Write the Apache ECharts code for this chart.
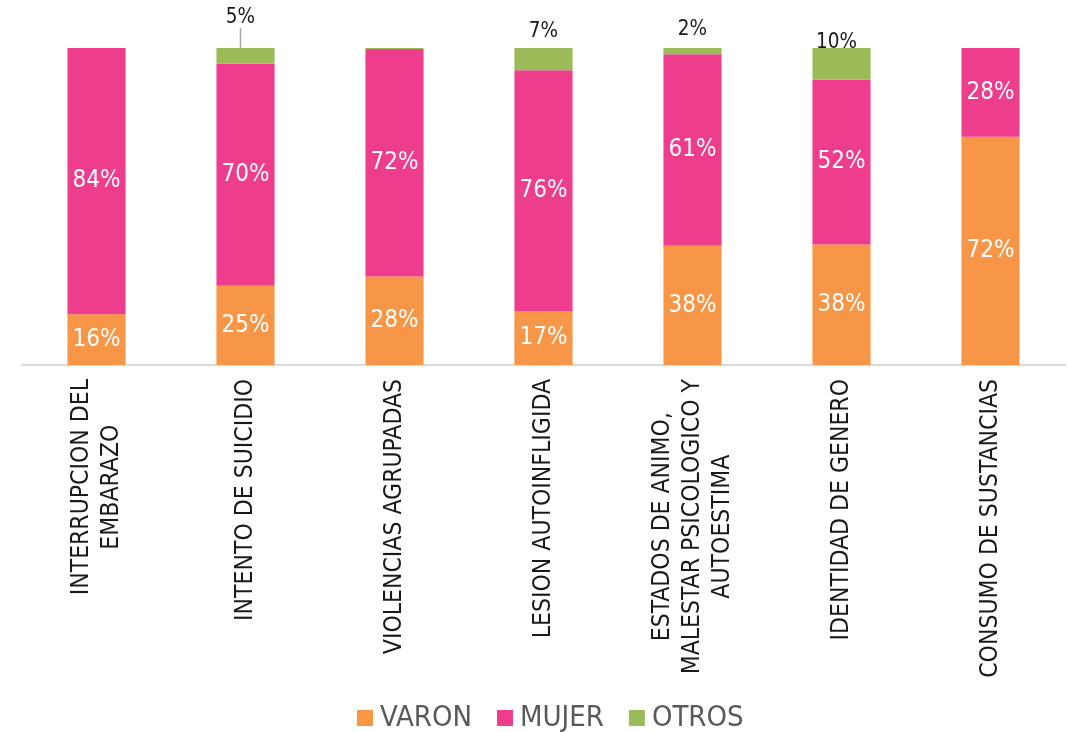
<!DOCTYPE html>
<html>
<head>
<meta charset="utf-8">
<script src="https://cdn.jsdelivr.net/npm/echarts@6/dist/echarts.min.js"></script>
<style>
  html, body { margin: 0; padding: 0; background: #fff; }
  #chart { width: 1068px; height: 732px; }
</style>
</head>
<body>
<div id="chart"></div>
<script>
var categories = [
    'INTERRUPCION DEL\nEMBARAZO',
    'INTENTO DE SUICIDIO',
    'VIOLENCIAS AGRUPADAS',
    'LESION AUTOINFLIGIDA',
    'ESTADOS DE ANIMO,\nMALESTAR PSICOLOGICO Y\nAUTOESTIMA',
    'IDENTIDAD DE GENERO',
    'CONSUMO DE SUSTANCIAS'
];
var varon = [16, 25, 28, 17, 38, 38, 72];
var mujer = [84, 70, 72, 76, 61, 52, 28];
var otros = [0, 5, 0.3, 7, 2, 10, 0];

var colors = ['#F79646', '#EF3D8E', '#9BBB59'];
var font = 'DejaVu Sans Condensed';

// 100% stacked: each category is scaled to its own total
var totals = categories.map(function (c, i) {
    return varon[i] + mujer[i] + otros[i];
});
function share(arr) {
    return arr.map(function (v, i) { return v / totals[i] * 100; });
}
var raw = [varon, mujer, otros];

function pctLabel(s) {
    return function (p) {
        var v = raw[s][p.dataIndex];
        return v >= 1 ? Math.round(v) + '%' : '';
    };
}

// where Excel put the OTROS labels
var otrosShift = {1: [-5, -16], 3: [0, -2], 4: [0, -4], 5: [-5, 9]};

var otrosData = share(otros).map(function (v, i) {
    return {
        value: v,
        labelLine: { show: i === 1 }
    };
});

var myChart = echarts.init(document.getElementById('chart'));

var option = {
    color: colors,
    animation: false,
    grid: {
        left: 22,
        right: 3,
        top: 48,
        bottom: 367
    },
    legend: {
        top: 697,
        left: 352,
        itemWidth: 16,
        itemHeight: 16,
        itemGap: 25,
        icon: 'rect',
        textStyle: {
            color: '#595959',
            fontSize: 29,
            lineHeight: 32,
            padding: [0, 0, 0, 2],
            fontFamily: font
        },
        data: ['VARON', 'MUJER', 'OTROS']
    },
    xAxis: {
        type: 'category',
        data: categories,
        axisTick: { show: false },
        axisLine: {
            lineStyle: { color: '#d9d9d9', width: 2 }
        },
        axisLabel: {
            interval: 0,
            rotate: 90,
            margin: 14,
            color: '#1a1a1a',
            formatter: function (v) {
                return v.split('\n').map(function (l) {
                    return '{c|' + l + '}';
                }).join('\n');
            },
            rich: {
                c: {
                    align: 'center',
                    fontSize: 24.5,
                    lineHeight: 30,
                    color: '#1a1a1a',
                    fontFamily: font
                }
            }
        }
    },
    yAxis: {
        type: 'value',
        min: 0,
        max: 100,
        show: false,
        splitLine: { show: false }
    },
    series: [
        {
            name: 'VARON',
            type: 'bar',
            stack: 'total',
            barWidth: '39%',
            data: share(varon),
            label: {
                show: true,
                position: 'inside',
                color: '#fff',
                fontSize: 24,
                fontFamily: font,
                formatter: pctLabel(0)
            }
        },
        {
            name: 'MUJER',
            type: 'bar',
            stack: 'total',
            data: share(mujer),
            label: {
                show: true,
                position: 'inside',
                color: '#fff',
                fontSize: 24,
                fontFamily: font,
                formatter: pctLabel(1)
            }
        },
        {
            name: 'OTROS',
            type: 'bar',
            stack: 'total',
            data: otrosData,
            label: {
                show: true,
                position: 'top',
                distance: 4,
                color: '#1a1a1a',
                fontSize: 20.5,
                fontFamily: font,
                formatter: pctLabel(2)
            },
            labelLine: {
                lineStyle: { color: '#a6a6a6', width: 1.5 }
            },
            labelLayout: function (p) {
                var s = otrosShift[p.dataIndex];
                return s ? { dx: s[0], dy: s[1] } : {};
            }
        }
    ]
};

myChart.setOption(option);
</script>
</body>
</html>
